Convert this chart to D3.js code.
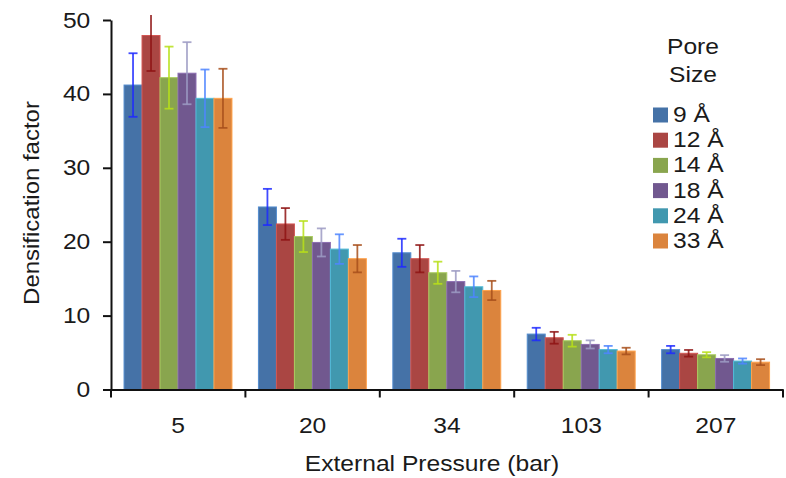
<!DOCTYPE html>
<html>
<head>
<meta charset="utf-8">
<script src="https://cdn.jsdelivr.net/npm/d3@7"></script>
<style>
  body { margin: 0; background: #fff; }
  svg { display: block; }
  text { font-family: "Liberation Sans", Arial, sans-serif; fill: #1a1a1a; }
</style>
</head>
<body>
<svg id="chart" width="786" height="478"></svg>
<script>
// ---- data ----
const pressures = ["5", "20", "34", "103", "207"];
const poreSizes = ["9 Å", "12 Å", "14 Å", "18 Å", "24 Å", "33 Å"];
const values9  = [41.2, 24.7, 18.5, 7.5, 5.4];
const values12 = [47.9, 22.4, 17.7, 7.0, 4.9];
const values14 = [42.2, 20.7, 15.8, 6.6, 4.7];
const values18 = [42.8, 19.9, 14.6, 6.1, 4.2];
const values24 = [39.4, 19.0, 13.9, 5.4, 3.85];
const values33 = [39.4, 17.7, 13.4, 5.2, 3.7];
const err9  = [4.3, 2.45, 1.9, 0.85, 0.5];
const err12 = [4.8, 2.15, 1.85, 0.8, 0.45];
const err14 = [4.2, 2.1, 1.5, 0.8, 0.35];
const err18 = [4.2, 1.9, 1.45, 0.55, 0.45];
const err24 = [3.9, 2.0, 1.4, 0.5, 0.35];
const err33 = [4.0, 1.85, 1.3, 0.45, 0.4];
const yTicks = [0, 10, 20, 30, 40, 50];

const seriesValues = [values9, values12, values14, values18, values24, values33];
const seriesErrors = [err9, err12, err14, err18, err24, err33];
const barColors = ["#4572A7", "#AA4643", "#89A54E", "#71588F", "#4198AF", "#DB843D"];
const errColors = ["#1f2bff", "#8f1414", "#b8e01a", "#9d9bc4", "#4f86ff", "#a8501c"];

const rows = [];
pressures.forEach((p, i) => {
  poreSizes.forEach((s, j) => {
    rows.push({ p, s, j, v: seriesValues[j][i], e: seriesErrors[j][i] });
  });
});

// ---- layout ----
const svg = d3.select("#chart");
const mLeft = 111, mRight = 783, mTop = 20, mBottom = 389.5;
const sx = 1.12;      // horizontal stretch of the lettering
const fs = "22px";

const x0 = d3.scaleBand().domain(pressures).range([mLeft, mRight]).paddingInner(0).paddingOuter(0);
const bw = x0.bandwidth();
const x1 = d3.scaleBand().domain(poreSizes).range([bw * 0.097, bw * 0.9]).padding(0);
const y = d3.scaleLinear().domain([0, 50]).range([mBottom, mTop]);

svg.append("defs").append("clipPath").attr("id", "clip")
  .append("rect").attr("x", 0).attr("y", 15).attr("width", 786).attr("height", 463);

// bars
const g = svg.append("g");
g.selectAll("rect.bar").data(rows).join("rect")
  .attr("class", "bar")
  .attr("x", d => x0(d.p) + x1(d.s))
  .attr("y", d => y(d.v))
  .attr("width", x1.bandwidth())
  .attr("height", d => y(0) - y(d.v))
  .attr("fill", d => barColors[d.j])
  .attr("stroke", d => d3.color(barColors[d.j]).brighter(0.6))
  .attr("stroke-width", 1);

// error bars
const eg = svg.append("g").attr("clip-path", "url(#clip)");
const cap = 4.5;
eg.selectAll("line.ev").data(rows).join("line")
  .attr("class", "ev")
  .attr("x1", d => x0(d.p) + x1(d.s) + x1.bandwidth() / 2)
  .attr("x2", d => x0(d.p) + x1(d.s) + x1.bandwidth() / 2)
  .attr("y1", d => y(d.v - d.e))
  .attr("y2", d => y(d.v + d.e))
  .attr("stroke", d => errColors[d.j]).attr("stroke-width", 1.8).attr("opacity", 0.85);
["top", "bot"].forEach(k => {
  eg.selectAll("line.c" + k).data(rows.filter(d => k === "bot" || y(d.v + d.e) > 17)).join("line")
    .attr("class", "c" + k)
    .attr("x1", d => x0(d.p) + x1(d.s) + x1.bandwidth() / 2 - cap)
    .attr("x2", d => x0(d.p) + x1(d.s) + x1.bandwidth() / 2 + cap)
    .attr("y1", d => y(k === "top" ? d.v + d.e : d.v - d.e))
    .attr("y2", d => y(k === "top" ? d.v + d.e : d.v - d.e))
    .attr("stroke", d => errColors[d.j]).attr("stroke-width", 1.8).attr("opacity", 0.85);
});

// y axis
const yAxis = svg.append("g").attr("transform", `translate(${mLeft},0)`)
  .call(d3.axisLeft(y).tickValues(yTicks).tickSize(8).tickSizeOuter(0).tickPadding(10.5));
yAxis.select(".domain").attr("stroke", "#111").attr("stroke-width", 2);
yAxis.selectAll(".tick line").attr("stroke", "#111").attr("stroke-width", 2);
yAxis.selectAll(".tick text").style("font-size", fs).attr("fill", "#1a1a1a")
  .attr("transform", `scale(${sx},1)`)
  .style("font-family", "'Liberation Sans', Arial, sans-serif");

// x axis
const xAxis = svg.append("g").attr("transform", `translate(0,${mBottom})`)
  .call(d3.axisBottom(x0).tickSize(0).tickSizeOuter(0).tickPadding(28));
xAxis.select(".domain").attr("stroke", "#111").attr("stroke-width", 2);
xAxis.selectAll(".tick text").style("font-size", fs).attr("fill", "#1a1a1a")
  .attr("transform", `scale(${sx},1)`)
  .style("font-family", "'Liberation Sans', Arial, sans-serif");
const bounds = pressures.map(p => x0(p)).concat([x0(pressures[pressures.length - 1]) + x0.step()]);
xAxis.selectAll("line.bt").data(bounds).join("line")
  .attr("class", "bt")
  .attr("x1", d => d).attr("x2", d => d).attr("y1", 0).attr("y2", 8)
  .attr("stroke", "#111").attr("stroke-width", 2);

// axis titles
svg.append("text")
  .attr("transform", `translate(39,203) rotate(-90) scale(1.09,1)`)
  .attr("text-anchor", "middle").style("font-size", fs)
  .text("Densification factor");
svg.append("text")
  .attr("transform", `translate(432,470.5) scale(${sx},1)`)
  .attr("text-anchor", "middle").style("font-size", fs)
  .text("External Pressure (bar)");

// legend
const lg = svg.append("g");
lg.append("text").attr("transform", `translate(693,54) scale(${sx},1)`).attr("text-anchor", "middle").style("font-size", fs).text("Pore");
lg.append("text").attr("transform", `translate(693,82) scale(${sx},1)`).attr("text-anchor", "middle").style("font-size", fs).text("Size");
const items = lg.selectAll("g.item").data(poreSizes).join("g")
  .attr("class", "item")
  .attr("transform", (d, i) => `translate(653,${107.5 + i * 25.2})`);
items.append("rect").attr("width", 15).attr("height", 15).attr("fill", (d, i) => barColors[i]);
items.append("text").attr("transform", `translate(20,14.5) scale(${sx},1)`).style("font-size", fs).text(d => d);
</script>
</body>
</html>
